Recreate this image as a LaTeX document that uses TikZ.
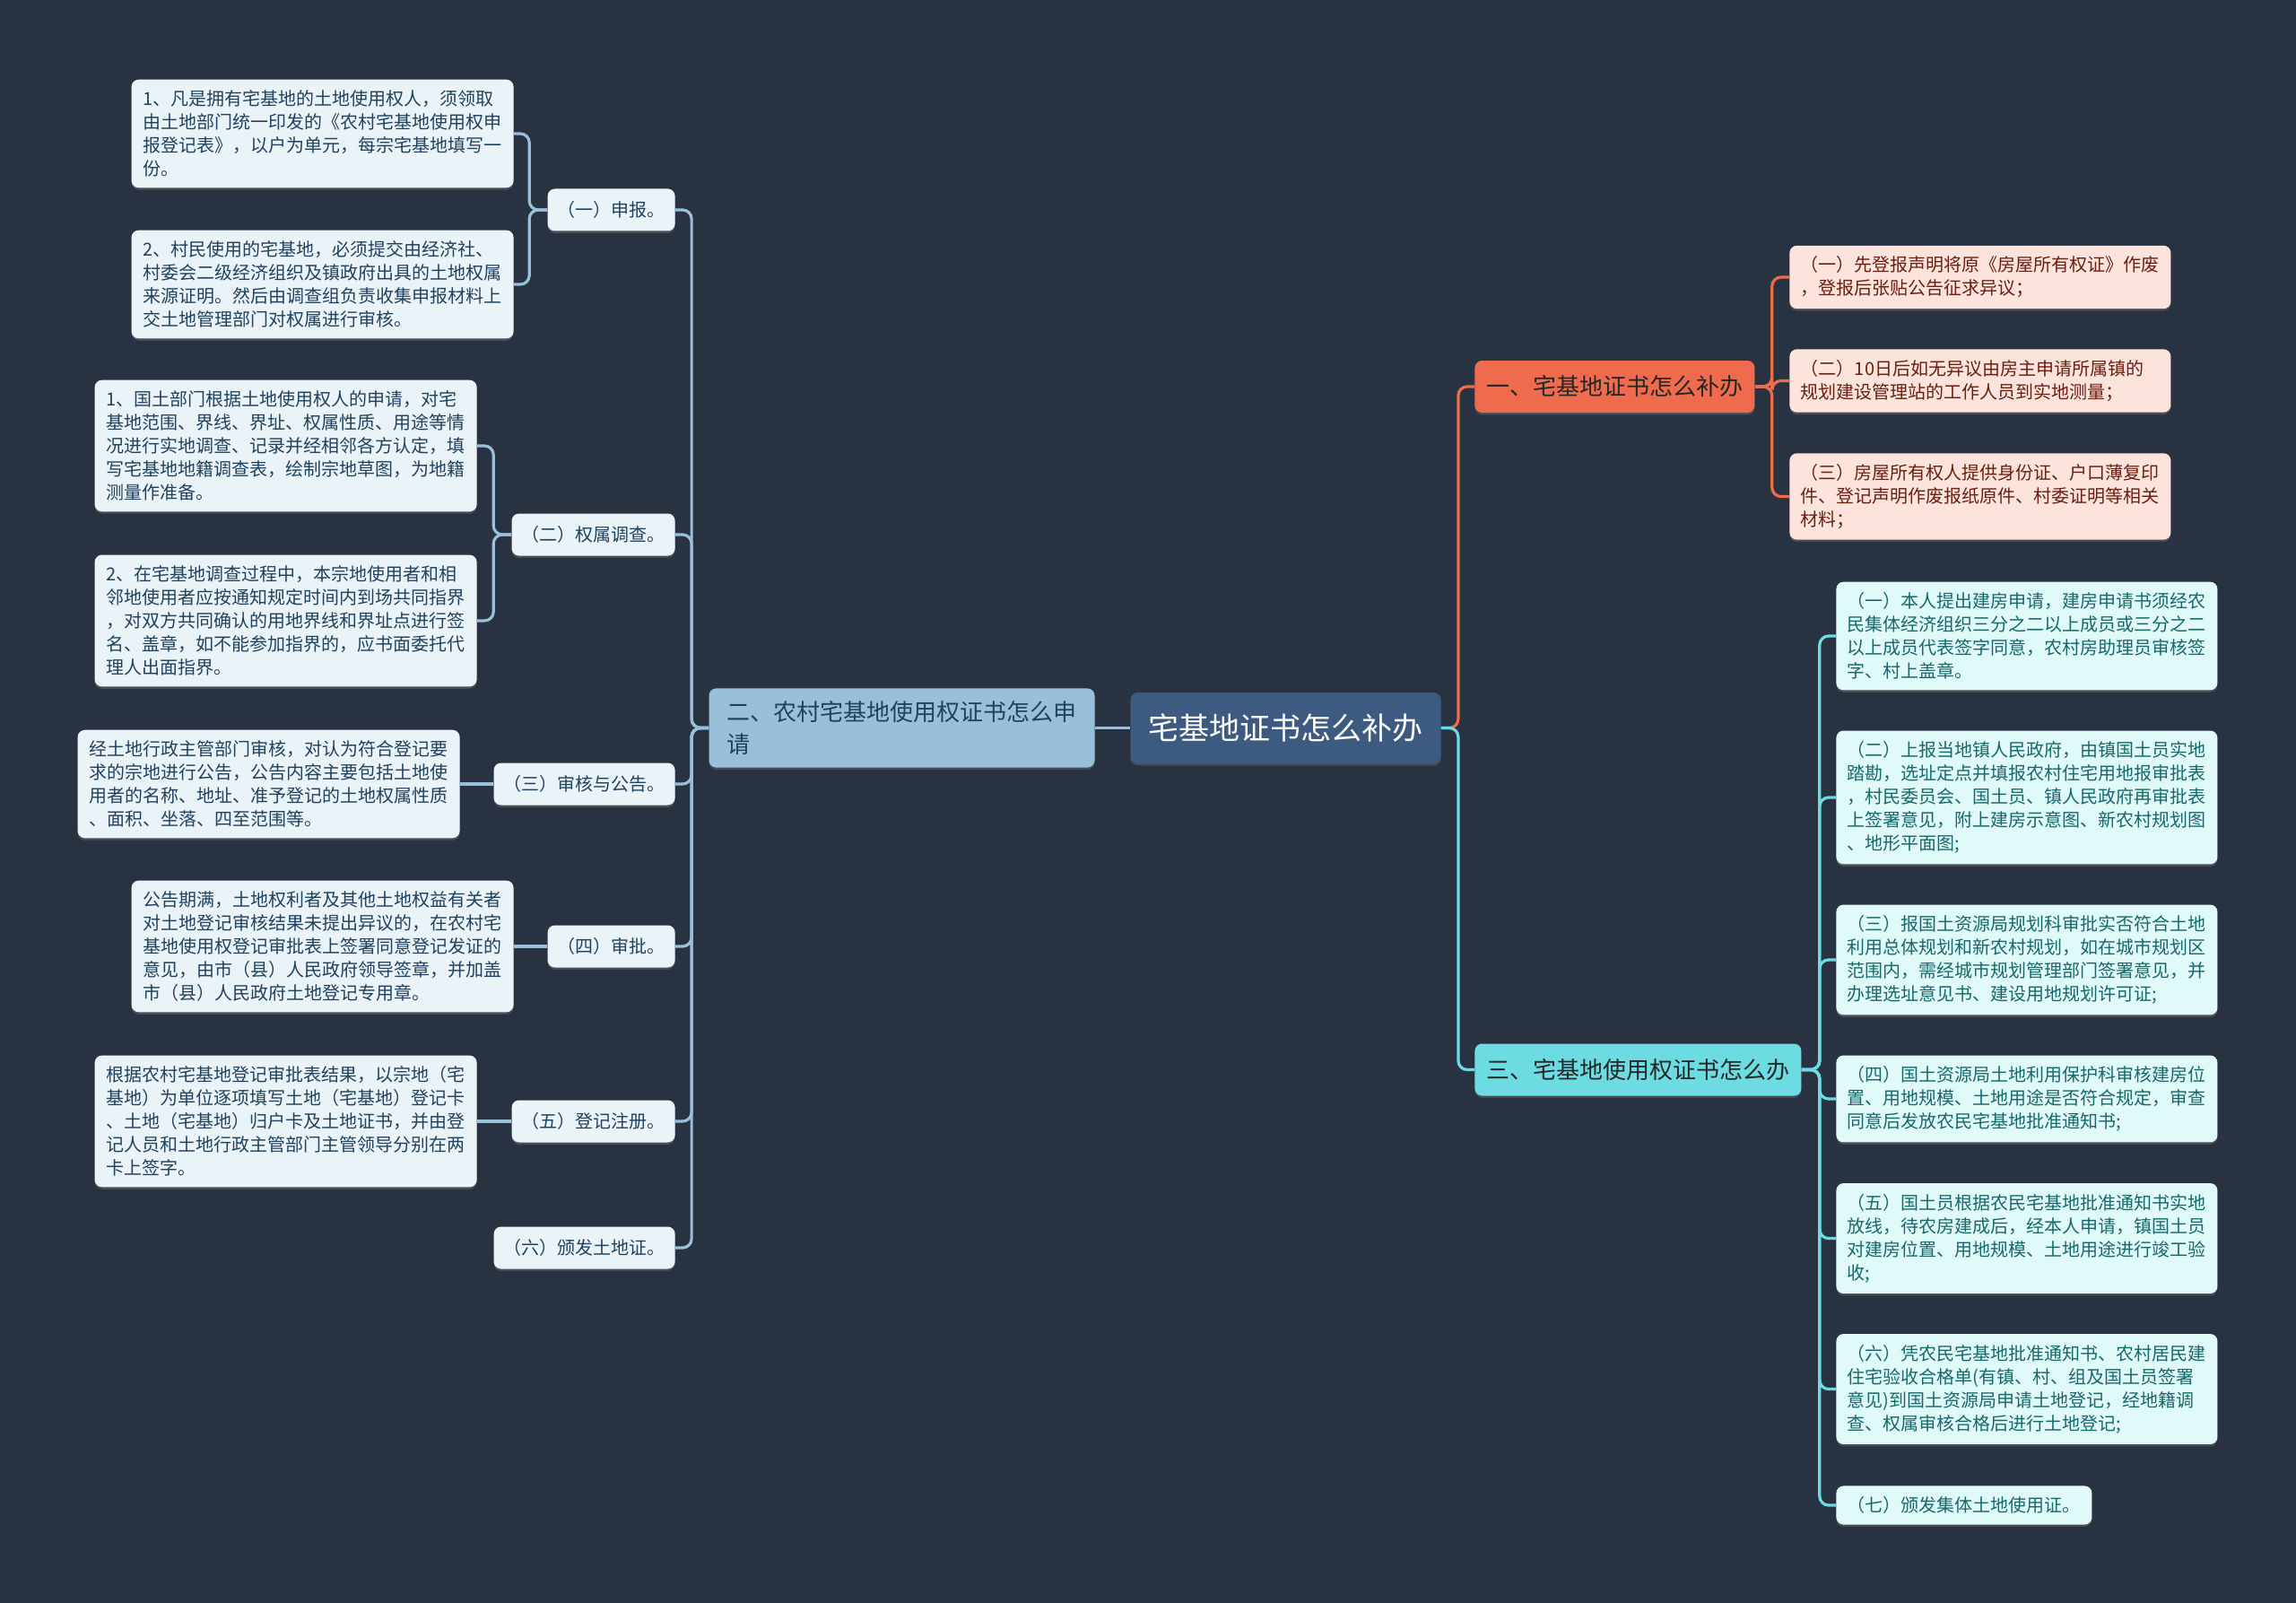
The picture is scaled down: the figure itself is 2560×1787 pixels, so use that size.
\documentclass[tikz,border=0pt]{standalone}
\usepackage{fontspec}
\newfontfamily\cjkfont{Noto Sans CJK SC}
\usetikzlibrary{shadows}
\definecolor{bgcol}{HTML}{293241}
\definecolor{rootcol}{HTML}{3D5A80}
\definecolor{lbcol}{HTML}{98C1D9}
\definecolor{lbtxt}{HTML}{20425F}
\definecolor{leafcol}{HTML}{EAF3F8}
\definecolor{orcol}{HTML}{EE6C4D}
\definecolor{ortxt}{HTML}{6A1F10}
\definecolor{orleaf}{HTML}{FCE3DC}
\definecolor{cycol}{HTML}{6CDCE2}
\definecolor{cytxt}{HTML}{17686C}
\definecolor{cyleaf}{HTML}{E0F9F9}
\tikzset{
  box/.style={rounded corners=4pt, align=left, inner ysep=6pt,
    drop shadow={shadow xshift=0pt, shadow yshift=-1.2pt, opacity=.35}},
  small/.style={font=\cjkfont\fontsize{10}{13}\selectfont},
  leafL/.style={box, small, fill=leafcol, text=lbtxt, inner xsep=6.5pt, text width=200pt},
  leafO/.style={box, small, fill=orleaf, text=ortxt, inner xsep=6.25pt, text width=200pt},
  leafC/.style={box, small, fill=cyleaf, text=cytxt, inner xsep=6.25pt, text width=200pt},
  shortC/.style={box, small, fill=cyleaf, text=cytxt, inner xsep=6.25pt},
  subL/.style={box, small, fill=leafcol, text=lbtxt, inner xsep=5.5pt, minimum height=23.5pt},
  mainO/.style={box, fill=orcol, text=black!85, font=\cjkfont\fontsize{13}{18}\selectfont,
    inner xsep=6.5pt, minimum height=29pt},
  mainC/.style={mainO, fill=cycol},
  lbline/.style={draw=lbcol, line width=1.6pt, rounded corners=5pt},
  orline/.style={lbline, draw=orcol},
  cyline/.style={lbline, draw=cycol}
}
\begin{document}
\begin{tikzpicture}[x=0.5pt,y=-0.5pt]
\useasboundingbox (0,0) rectangle (2560,1787);
\fill[bgcol] (0,0) rectangle (2560,1787);
% root
\node[box, fill=rootcol, text=white, font=\cjkfont\fontsize{17}{20}\selectfont,
  inner xsep=10pt, minimum height=39.5pt] (root) at (1433.5,811.5) {宅基地证书怎么补办};
% left branch
\node[box, fill=lbcol, text=lbtxt, font=\cjkfont\fontsize{13}{18}\selectfont,
  inner xsep=10pt, inner ysep=7pt] (apply) at (1005.5,811.5)
  {二、农村宅基地使用权证书怎么申\\请};
\node[subL, anchor=east] (s1) at (753,234) {（一）申报。};
\node[subL, anchor=east] (s2) at (753,596) {（二）权属调查。};
\node[subL, anchor=east] (s3) at (753,874) {（三）审核与公告。};
\node[subL, anchor=east] (s4) at (753,1055) {（四）审批。};
\node[subL, anchor=east] (s5) at (753,1250) {（五）登记注册。};
\node[subL, anchor=east] (s6) at (753,1391) {（六）颁发土地证。};
\node[leafL, anchor=east] (l1a) at (573,149) {1、凡是拥有宅基地的土地使用权人，须领取\\由土地部门统一印发的《农村宅基地使用权申\\报登记表》，以户为单元，每宗宅基地填写一\\份。};
\node[leafL, anchor=east] (l1b) at (573,317) {2、村民使用的宅基地，必须提交由经济社、\\村委会二级经济组织及镇政府出具的土地权属\\来源证明。然后由调查组负责收集申报材料上\\交土地管理部门对权属进行审核。};
\node[leafL, anchor=east] (l2a) at (532,497) {1、国土部门根据土地使用权人的申请，对宅\\基地范围、界线、界址、权属性质、用途等情\\况进行实地调查、记录并经相邻各方认定，填\\写宅基地地籍调查表，绘制宗地草图，为地籍\\测量作准备。};
\node[leafL, anchor=east] (l2b) at (532,692) {2、在宅基地调查过程中，本宗地使用者和相\\邻地使用者应按通知规定时间内到场共同指界\\，对双方共同确认的用地界线和界址点进行签\\名、盖章，如不能参加指界的，应书面委托代\\理人出面指界。};
\node[leafL, anchor=east] (l3) at (513,874) {经土地行政主管部门审核，对认为符合登记要\\求的宗地进行公告，公告内容主要包括土地使\\用者的名称、地址、准予登记的土地权属性质\\、面积、坐落、四至范围等。};
\node[leafL, anchor=east] (l4) at (573,1055) {公告期满，土地权利者及其他土地权益有关者\\对土地登记审核结果未提出异议的，在农村宅\\基地使用权登记审批表上签署同意登记发证的\\意见，由市（县）人民政府领导签章，并加盖\\市（县）人民政府土地登记专用章。};
\node[leafL, anchor=east] (l5) at (532,1250) {根据农村宅基地登记审批表结果，以宗地（宅\\基地）为单位逐项填写土地（宅基地）登记卡\\、土地（宅基地）归户卡及土地证书，并由登\\记人员和土地行政主管部门主管领导分别在两\\卡上签字。};
% right branches
\node[mainO, anchor=west] (reissue) at (1644,431) {一、宅基地证书怎么补办};
\node[leafO, anchor=west] (o1) at (1995,309) {（一）先登报声明将原《房屋所有权证》作废\\，登报后张贴公告征求异议；};
\node[leafO, anchor=west] (o2) at (1995,424.5) {（二）10日后如无异议由房主申请所属镇的\\规划建设管理站的工作人员到实地测量；};
\node[leafO, anchor=west] (o3) at (1995,553.5) {（三）房屋所有权人提供身份证、户口薄复印\\件、登记声明作废报纸原件、村委证明等相关\\材料；};
\node[mainC, anchor=west] (handle) at (1644,1192.5) {三、宅基地使用权证书怎么办};
\node[leafC, anchor=west] (c1) at (2047,709) {（一）本人提出建房申请，建房申请书须经农\\民集体经济组织三分之二以上成员或三分之二\\以上成员代表签字同意，农村房助理员审核签\\字、村上盖章。};
\node[leafC, anchor=west] (c2) at (2047,889) {（二）上报当地镇人民政府，由镇国土员实地\\踏勘，选址定点并填报农村住宅用地报审批表\\，村民委员会、国土员、镇人民政府再审批表\\上签署意见，附上建房示意图、新农村规划图\\、地形平面图;};
\node[leafC, anchor=west] (c3) at (2047,1070) {（三）报国土资源局规划科审批实否符合土地\\利用总体规划和新农村规划，如在城市规划区\\范围内，需经城市规划管理部门签署意见，并\\办理选址意见书、建设用地规划许可证;};
\node[leafC, anchor=west] (c4) at (2047,1225) {（四）国土资源局土地利用保护科审核建房位\\置、用地规模、土地用途是否符合规定，审查\\同意后发放农民宅基地批准通知书;};
\node[leafC, anchor=west] (c5) at (2047,1380.5) {（五）国土员根据农民宅基地批准通知书实地\\放线，待农房建成后，经本人申请，镇国土员\\对建房位置、用地规模、土地用途进行竣工验\\收;};
\node[leafC, anchor=west] (c6) at (2047,1548.5) {（六）凭农民宅基地批准通知书、农村居民建\\住宅验收合格单(有镇、村、组及国土员签署\\意见)到国土资源局申请土地登记，经地籍调\\查、权属审核合格后进行土地登记;};
\node[shortC, anchor=west] (c7) at (2047,1678) {（七）颁发集体土地使用证。};
% connectors
\draw[lbline] (root.west) -- (apply.east);
\foreach \s in {s1,s2,s3,s4,s5,s6}
  \draw[lbline] (apply.west) -- ++(-19,0) |- (\s.east);
\draw[lbline] (s1.west) -- ++(-20,0) |- (l1a.east);
\draw[lbline] (s1.west) -- ++(-20,0) |- (l1b.east);
\draw[lbline] (s2.west) -- ++(-20,0) |- (l2a.east);
\draw[lbline] (s2.west) -- ++(-20,0) |- (l2b.east);
\draw[lbline] (s3.west) -- (l3.east);
\draw[lbline] (s4.west) -- (l4.east);
\draw[lbline] (s5.west) -- (l5.east);
\draw[orline] (root.east) -- ++(19,0) |- (reissue.west);
\draw[cyline] (root.east) -- ++(19,0) |- (handle.west);
\foreach \k in {o1,o2,o3}
  \draw[orline] (reissue.east) -- ++(19,0) |- (\k.west);
\foreach \k in {c1,c2,c3,c4,c5,c6,c7}
  \draw[cyline] (handle.east) -- ++(20,0) |- (\k.west);
\end{tikzpicture}
\end{document}
